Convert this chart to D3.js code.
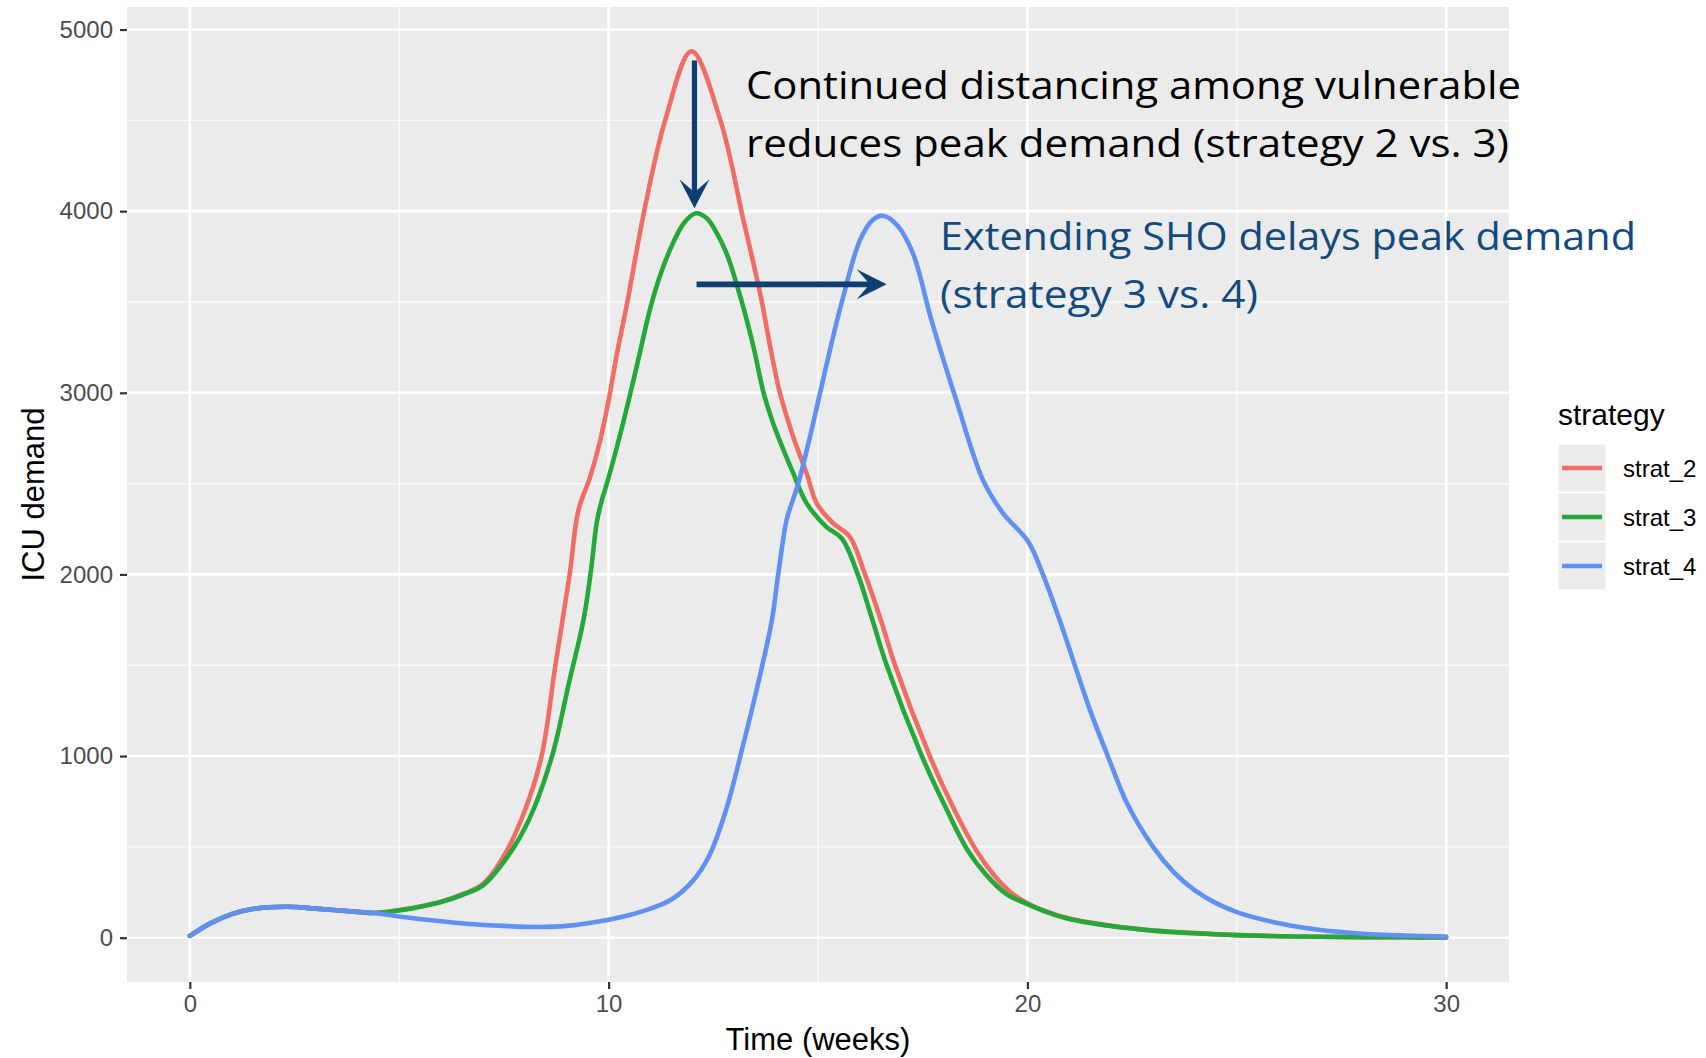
<!DOCTYPE html>
<html>
<head>
<meta charset="utf-8">
<script src="https://cdn.jsdelivr.net/npm/d3@7"></script>
<style>
  html, body { margin: 0; padding: 0; background: #ffffff; }
  svg { display: block; }
</style>
</head>
<body>
<svg id="chart" width="1706" height="1058"></svg>
<script>
// ---------------- DATA ----------------
const seriesNames = ["strat_2", "strat_3", "strat_4"];
const seriesColors = ["#ef6d64", "#25a83a", "#5f90f2"];

const strat2Time  = [0, 0.5, 1, 1.5, 2.3, 3, 4, 4.4, 5, 5.5, 6, 6.5, 7, 7.5, 8.0, 8.4, 8.73, 9.07, 9.28, 9.56, 9.8, 10.0, 10.2, 10.44, 10.85, 11.35, 11.98, 12.67, 13.22, 13.46, 13.66, 13.86, 14.09, 14.41, 14.73, 14.97, 15.36, 15.76, 16.12, 16.5, 16.84, 17.67, 18.2, 18.78, 19.2, 19.6, 20.0, 20.5, 21.0, 22.0, 23.0, 24.0, 25.0, 26.0, 27.0, 28.0, 29.0, 30.0];
const strat2Value = [10, 80, 130, 158, 170, 160, 142, 136, 152, 172, 198, 238, 295, 450, 700, 1000, 1500, 2000, 2354, 2537, 2739, 2959, 3216, 3491, 4000, 4500, 4880, 4500, 3949, 3711, 3500, 3252, 3000, 2757, 2556, 2391, 2282, 2207, 2002, 1749, 1500, 1000, 730, 480, 345, 250, 190, 140, 105, 65, 40, 25, 14, 8, 5, 3, 2, 1];

const strat3Time  = [0, 0.5, 1, 1.5, 2.3, 3, 4, 4.4, 5, 5.5, 6, 6.5, 7, 7.6, 8.1, 8.65, 9.05, 9.4, 9.58, 9.72, 9.84, 9.96, 10.2, 10.48, 10.76, 11.0, 11.25, 11.55, 11.8, 12.08, 12.35, 12.58, 12.82, 13.18, 13.46, 13.7, 13.93, 14.41, 14.73, 15.2, 15.57, 15.95, 16.3, 16.64, 17.48, 18.0, 18.55, 19.0, 19.5, 20.0, 20.5, 21.0, 22.0, 23.0, 24.0, 25.0, 26.0, 27.0, 28.0, 29.0, 30.0];
const strat3Value = [10, 80, 130, 158, 170, 160, 142, 136, 150, 170, 196, 235, 288, 450, 650, 1000, 1400, 1749, 2024, 2290, 2409, 2501, 2703, 2959, 3234, 3470, 3660, 3830, 3935, 3988, 3960, 3880, 3766, 3500, 3252, 3000, 2831, 2556, 2391, 2262, 2198, 2000, 1749, 1500, 1000, 740, 490, 350, 240, 185, 138, 103, 64, 39, 24, 14, 8, 5, 3, 2, 1];

const strat4Time  = [0, 0.5, 1, 1.5, 2.3, 3, 4, 4.4, 5, 6, 6.6, 7.5, 8.3, 9.0, 10.0, 10.5, 11.0, 11.5, 12.0, 12.4, 12.8, 13.2, 13.6, 13.9, 14.05, 14.25, 14.4, 14.53, 14.8, 15.05, 15.3, 15.57, 16.0, 16.3, 16.55, 16.9, 17.27, 17.71, 18.3, 18.94, 19.42, 20.02, 20.37, 20.77, 21.13, 21.5, 21.92, 22.4, 23.0, 23.5, 24.0, 24.5, 25.07, 26.1, 27.0, 28.0, 29.0, 30.0];
const strat4Value = [10, 80, 130, 158, 170, 160, 142, 136, 117, 90, 77, 65, 59, 65, 99, 125, 160, 210, 310, 450, 700, 1050, 1430, 1749, 2000, 2300, 2410, 2501, 2750, 3000, 3250, 3500, 3839, 3950, 3975, 3920, 3766, 3399, 2960, 2519, 2336, 2180, 2000, 1749, 1502, 1250, 1000, 730, 500, 360, 260, 190, 135, 75, 42, 22, 12, 6];

const xTicks = [0, 10, 20, 30];
const xMinorTicks = [5, 15, 25];
const yTicks = [0, 1000, 2000, 3000, 4000, 5000];
const yMinorTicks = [500, 1500, 2500, 3500, 4500];

const xTitle = "Time (weeks)";
const yTitle = "ICU demand";
const legendTitle = "strategy";

// annotations (data coordinates)
const note1Lines = ["Continued distancing among vulnerable", "reduces peak demand (strategy 2 vs. 3)"];
const note2Lines = ["Extending SHO delays peak demand", "(strategy 3 vs. 4)"];
const arrowDown  = { t: 12.05, from: 4830, to: 4000 };
const arrowRight = { v: 3597, from: 12.1, to: 16.64 };

// ---------------- LAYOUT ----------------
const svg = d3.select("#chart");
const panel = { left: 127, right: 1509, top: 7, bottom: 982 };

const series = [
  { name: seriesNames[0], color: seriesColors[0], pts: strat2Time.map((t, i) => [t, strat2Value[i]]) },
  { name: seriesNames[1], color: seriesColors[1], pts: strat3Time.map((t, i) => [t, strat3Value[i]]) },
  { name: seriesNames[2], color: seriesColors[2], pts: strat4Time.map((t, i) => [t, strat4Value[i]]) }
];

const allT = [].concat(strat2Time, strat3Time, strat4Time);
const allV = [].concat(strat2Value, strat3Value, strat4Value);
const tExt = d3.extent(allT), vExt = [0, d3.max(allV)];
const tPad = (tExt[1] - tExt[0]) * 0.05, vPad = (vExt[1] - vExt[0]) * 0.05;

const x = d3.scaleLinear().domain([tExt[0] - tPad, tExt[1] + tPad]).range([panel.left, panel.right]);
const y = d3.scaleLinear().domain([vExt[0] - vPad, vExt[1] + vPad]).range([panel.bottom, panel.top]);

// panel background
svg.append("rect")
  .attr("x", panel.left).attr("y", panel.top)
  .attr("width", panel.right - panel.left).attr("height", panel.bottom - panel.top)
  .attr("fill", "#ebebeb");

// minor gridlines
const grid = svg.append("g");
grid.selectAll(".ymin").data(yMinorTicks).enter().append("line")
  .attr("x1", panel.left).attr("x2", panel.right)
  .attr("y1", d => y(d)).attr("y2", d => y(d))
  .attr("stroke", "#fafafa").attr("stroke-width", 1.4);
grid.selectAll(".xmin").data(xMinorTicks).enter().append("line")
  .attr("y1", panel.top).attr("y2", panel.bottom)
  .attr("x1", d => x(d)).attr("x2", d => x(d))
  .attr("stroke", "#fafafa").attr("stroke-width", 1.4);
// major gridlines
grid.selectAll(".ymaj").data(yTicks).enter().append("line")
  .attr("x1", panel.left).attr("x2", panel.right)
  .attr("y1", d => y(d)).attr("y2", d => y(d))
  .attr("stroke", "#ffffff").attr("stroke-width", 2.6);
grid.selectAll(".xmaj").data(xTicks).enter().append("line")
  .attr("y1", panel.top).attr("y2", panel.bottom)
  .attr("x1", d => x(d)).attr("x2", d => x(d))
  .attr("stroke", "#ffffff").attr("stroke-width", 2.6);

// axes
const axisFont = "'Liberation Sans', Arial, Helvetica, sans-serif";
const yAxis = svg.append("g").attr("transform", `translate(${panel.left},0)`)
  .call(d3.axisLeft(y).tickValues(yTicks).tickSize(7).tickPadding(7).tickFormat(d3.format("d")));
const xAxis = svg.append("g").attr("transform", `translate(0,${panel.bottom})`)
  .call(d3.axisBottom(x).tickValues(xTicks).tickSize(7).tickPadding(6).tickFormat(d3.format("d")));
[xAxis, yAxis].forEach(a => {
  a.select(".domain").remove();
  a.selectAll(".tick line").attr("stroke", "#333333").attr("stroke-width", 2.2);
  a.selectAll(".tick text").attr("fill", "#4d4d4d").style("font-family", axisFont).style("font-size", "24px");
});

// axis titles
svg.append("text")
  .attr("x", (panel.left + panel.right) / 2).attr("y", 1050)
  .attr("text-anchor", "middle")
  .style("font-family", axisFont).style("font-size", "31px").attr("fill", "#000")
  .text(xTitle);
svg.append("text")
  .attr("transform", `translate(44,${(panel.top + panel.bottom) / 2}) rotate(-90)`)
  .attr("text-anchor", "middle")
  .style("font-family", axisFont).style("font-size", "31px").attr("fill", "#000")
  .text(yTitle);

// lines
const line = d3.line().x(d => x(d[0])).y(d => y(d[1])).curve(d3.curveCatmullRom.alpha(0.5));
const clipId = "panelClip";
svg.append("clipPath").attr("id", clipId).append("rect")
  .attr("x", panel.left).attr("y", panel.top)
  .attr("width", panel.right - panel.left).attr("height", panel.bottom - panel.top);
svg.append("g").attr("clip-path", `url(#${clipId})`)
  .selectAll("path").data(series).enter().append("path")
  .attr("d", d => line(d.pts))
  .attr("fill", "none")
  .attr("stroke", d => d.color)
  .attr("stroke-width", 4.6)
  .attr("stroke-linejoin", "round")
  .attr("stroke-linecap", "round");

// legend
const legend = svg.append("g");
legend.append("text")
  .attr("x", 1558).attr("y", 425)
  .style("font-family", axisFont).style("font-size", "30px").attr("fill", "#000")
  .text(legendTitle);
const keySize = 48, keyTop = 444, keyLeft = 1558;
const items = legend.selectAll(".item").data(series).enter().append("g")
  .attr("transform", (d, i) => `translate(${keyLeft},${keyTop + i * (keySize + 1)})`);
items.append("rect").attr("width", keySize).attr("height", keySize)
  .attr("fill", "#ebebeb").attr("stroke", "#ffffff").attr("stroke-width", 1);
items.append("line")
  .attr("x1", 4).attr("x2", keySize - 4)
  .attr("y1", keySize / 2).attr("y2", keySize / 2)
  .attr("stroke", d => d.color).attr("stroke-width", 4.6);
items.append("text")
  .attr("x", 65).attr("y", keySize / 2 + 8.5)
  .style("font-family", axisFont).style("font-size", "24px").attr("fill", "#000")
  .text(d => d.name);

// annotations
const noteFont = "'Open Sans', 'Noto Sans', sans-serif";
const navy = "#0d3f70";
const textBlue = "#134a7e";

function arrowHeadDown(cx, tipY) {
  return `M${cx},${tipY} L${cx - 15},${tipY - 29} L${cx},${tipY - 16} L${cx + 15},${tipY - 29} Z`;
}
function arrowHeadRight(tipX, cy) {
  return `M${tipX},${cy} L${tipX - 30},${cy - 15} L${tipX - 17},${cy} L${tipX - 30},${cy + 15} Z`;
}

const ax1 = x(arrowDown.t), ay1 = y(arrowDown.from), ay2 = y(arrowDown.to) - 3;
svg.append("line").attr("x1", ax1).attr("x2", ax1).attr("y1", ay1).attr("y2", ay2 - 12)
  .attr("stroke", navy).attr("stroke-width", 5.2);
svg.append("path").attr("d", arrowHeadDown(ax1, ay2)).attr("fill", navy);

const by = y(arrowRight.v), bx1 = x(arrowRight.from), bx2 = x(arrowRight.to);
svg.append("line").attr("x1", bx1).attr("x2", bx2 - 12).attr("y1", by).attr("y2", by)
  .attr("stroke", navy).attr("stroke-width", 5.6);
svg.append("path").attr("d", arrowHeadRight(bx2, by)).attr("fill", navy);

const note1X = 746, note1Y = [99, 157], note1W = [775, 763];
note1Lines.forEach((s, i) => {
  svg.append("text")
    .attr("x", note1X).attr("y", note1Y[i])
    .attr("textLength", note1W[i]).attr("lengthAdjust", "spacingAndGlyphs")
    .style("font-family", noteFont).style("font-size", "39px").attr("fill", "#000")
    .text(s);
});
const note2X = 940, note2Y = [250, 308], note2W = [696, 318];
note2Lines.forEach((s, i) => {
  svg.append("text")
    .attr("x", note2X).attr("y", note2Y[i])
    .attr("textLength", note2W[i]).attr("lengthAdjust", "spacingAndGlyphs")
    .style("font-family", noteFont).style("font-size", "39px").attr("fill", textBlue)
    .text(s);
});
</script>
</body>
</html>
